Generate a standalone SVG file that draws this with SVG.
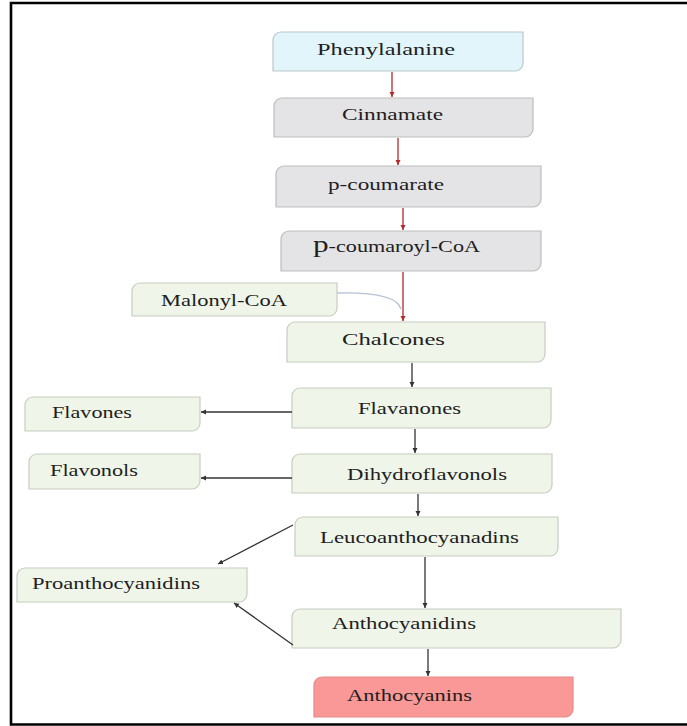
<svg xmlns="http://www.w3.org/2000/svg" width="687" height="726" viewBox="0 0 687 726">
<defs>
<style>
.box{stroke-width:1.2}
.blue{fill:#e2f5fb;stroke:#b9c7cc}
.gray{fill:#e4e3e5;stroke:#bdbdbd}
.green{fill:#eff5e9;stroke:#c6cec0}
.pink{fill:#f99896;stroke:#e58a88}
.t{font-family:"Liberation Serif","Times New Roman",serif;font-size:17px;fill:#1e1e1e}
.red{stroke:#b22a2a;stroke-width:1.3;fill:none}
.blk{stroke:#333;stroke-width:1.3;fill:none}
</style>
<marker id="ar" markerWidth="6" markerHeight="6" refX="5" refY="3" orient="auto" markerUnits="userSpaceOnUse">
<path d="M0,0.5 L5,3 L0,5.5 Z" fill="#b22a2a"/>
</marker>
<marker id="ab" markerWidth="6" markerHeight="6" refX="5" refY="3" orient="auto" markerUnits="userSpaceOnUse">
<path d="M0,0.5 L5,3 L0,5.5 Z" fill="#333"/>
</marker>
</defs>
<rect width="687" height="726" fill="#fff"/>
<path d="M687,3 H11 V724.5 H687" fill="none" stroke="#000" stroke-width="2.6"/>

<g id="n-phenylalanine"><path class="box blue" d="M281,32 H523 V63 A8,8 0 0 1 515,71 H273 V40 A8,8 0 0 1 281,32 Z"/><text class="t" x="317" y="55" textLength="138" lengthAdjust="spacingAndGlyphs">Phenylalanine</text></g>
<g id="n-cinnamate"><path class="box gray" d="M282,98 H533 V129 A8,8 0 0 1 525,137 H274 V106 A8,8 0 0 1 282,98 Z"/><text class="t" x="342" y="120" textLength="101" lengthAdjust="spacingAndGlyphs">Cinnamate</text></g>
<g id="n-pcoumarate"><path class="box gray" d="M284,166 H541 V199 A8,8 0 0 1 533,207 H276 V174 A8,8 0 0 1 284,166 Z"/><text class="t" x="328" y="190" textLength="116" lengthAdjust="spacingAndGlyphs">p-coumarate</text></g>
<g id="n-pcoumaroylcoa"><path class="box gray" d="M289,231 H541 V263 A8,8 0 0 1 533,271 H281 V239 A8,8 0 0 1 289,231 Z"/><text class="t" x="313" y="252" textLength="167" lengthAdjust="spacingAndGlyphs"><tspan font-size="24">p</tspan>-coumaroyl-CoA</text></g>
<g id="n-malonylcoa"><path class="box green" d="M140,283 H337 V308 A8,8 0 0 1 329,316 H132 V291 A8,8 0 0 1 140,283 Z"/><text class="t" x="161" y="306" textLength="126" lengthAdjust="spacingAndGlyphs">Malonyl-CoA</text></g>
<g id="n-chalcones"><path class="box green" d="M295,322 H545 V354 A8,8 0 0 1 537,362 H287 V330 A8,8 0 0 1 295,322 Z"/><text class="t" x="342" y="345" textLength="103" lengthAdjust="spacingAndGlyphs">Chalcones</text></g>
<g id="n-flavones"><path class="box green" d="M33,397 H200 V423 A8,8 0 0 1 192,431 H25 V405 A8,8 0 0 1 33,397 Z"/><text class="t" x="52" y="418" textLength="80" lengthAdjust="spacingAndGlyphs">Flavones</text></g>
<g id="n-flavanones"><path class="box green" d="M300,388 H551 V420 A8,8 0 0 1 543,428 H292 V396 A8,8 0 0 1 300,388 Z"/><text class="t" x="358" y="414" textLength="103" lengthAdjust="spacingAndGlyphs">Flavanones</text></g>
<g id="n-flavonols"><path class="box green" d="M37,454 H200 V481 A8,8 0 0 1 192,489 H29 V462 A8,8 0 0 1 37,454 Z"/><text class="t" x="50" y="476" textLength="88" lengthAdjust="spacingAndGlyphs">Flavonols</text></g>
<g id="n-dihydroflavonols"><path class="box green" d="M300,454 H552 V485 A8,8 0 0 1 544,493 H292 V462 A8,8 0 0 1 300,454 Z"/><text class="t" x="347" y="480" textLength="160" lengthAdjust="spacingAndGlyphs">Dihydroflavonols</text></g>
<g id="n-leucoanthocyanadins"><path class="box green" d="M303,517 H558 V548 A8,8 0 0 1 550,556 H295 V525 A8,8 0 0 1 303,517 Z"/><text class="t" x="320" y="543" textLength="199" lengthAdjust="spacingAndGlyphs">Leucoanthocyanadins</text></g>
<g id="n-proanthocyanidins"><path class="box green" d="M25,568 H247 V594 A8,8 0 0 1 239,602 H17 V576 A8,8 0 0 1 25,568 Z"/><text class="t" x="32" y="589" textLength="168" lengthAdjust="spacingAndGlyphs">Proanthocyanidins</text></g>
<g id="n-anthocyanidins"><path class="box green" d="M300,609 H621 V640 A8,8 0 0 1 613,648 H292 V617 A8,8 0 0 1 300,609 Z"/><text class="t" x="332" y="629" textLength="144" lengthAdjust="spacingAndGlyphs">Anthocyanidins</text></g>
<g id="n-anthocyanins"><path class="box pink" d="M322,677 H573 V709 A8,8 0 0 1 565,717 H314 V685 A8,8 0 0 1 322,677 Z"/><text class="t" x="347" y="701" textLength="125" lengthAdjust="spacingAndGlyphs">Anthocyanins</text></g>

<g id="connectors">
<path class="red" d="M392,72 V97" marker-end="url(#ar)"/>
<path class="red" d="M398,138 V165" marker-end="url(#ar)"/>
<path class="red" d="M403,208 V230" marker-end="url(#ar)"/>
<path class="red" d="M403,272 V321" marker-end="url(#ar)"/>
<path d="M337,293 C378,292 398,298 401,309" fill="none" stroke="#b6c2d6" stroke-width="1.3"/>
<path class="blk" d="M412,363 V387" marker-end="url(#ab)"/>
<path class="blk" d="M292,412 H201" marker-end="url(#ab)"/>
<path class="blk" d="M415,429 V453" marker-end="url(#ab)"/>
<path class="blk" d="M292,478 H201" marker-end="url(#ab)"/>
<path class="blk" d="M418,494 V516" marker-end="url(#ab)"/>
<path class="blk" d="M293,525 L218,564" marker-end="url(#ab)"/>
<path class="blk" d="M425,557 V608" marker-end="url(#ab)"/>
<path class="blk" d="M293,645 L234,603" marker-end="url(#ab)"/>
<path class="blk" d="M428,649 V676" marker-end="url(#ab)"/>
</g>
</svg>
